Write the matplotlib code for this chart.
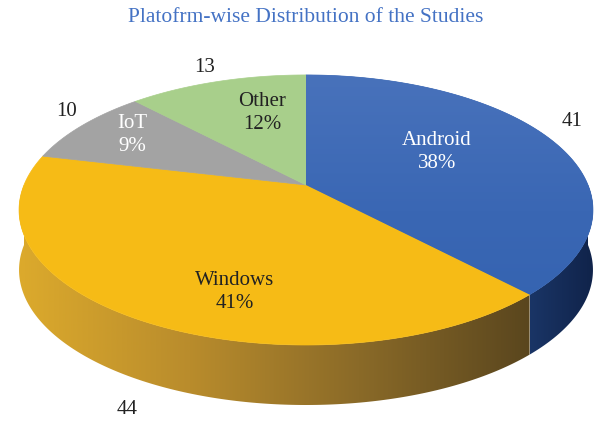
import numpy as np
import matplotlib.pyplot as plt
from matplotlib.patches import Polygon
from matplotlib.colors import LinearSegmentedColormap

# data
platforms = ["Android", "Windows", "IoT", "Other"]
counts = [41, 44, 10, 13]

top_colors = ["#3c69b5", "#f6bb16", "#a3a3a3", "#a8cf8b"]
label_colors = ["white", "#222222", "white", "#222222"]
# label spots (pixels) for name+percent and for the raw counts
pct_pos = [(437, 152), (235, 292), (132, 135), (262, 113)]
cnt_pos = [(572, 122), (127, 410), (67, 112), (205, 68)]

W, H = 597, 422
cx, cy = 306, 185      # where the slices meet
rx, ry, persp = 282, 130.4, 0.185
depth = 60

def proj(t, r=1.0):
    u, v = r * np.cos(t), r * np.sin(t)
    d = 1 + persp * v
    return cx + rx * u / d, cy - ry * v / d

fig = plt.figure(figsize=(W / 100, H / 100), dpi=100)
ax = fig.add_axes([0, 0, 1, 1])
ax.set_xlim(0, W)
ax.set_ylim(H, 0)
ax.axis("off")

total = sum(counts)
ang = 90 - np.cumsum([0] + counts) / total * 360   # clockwise from top
starts, ends = ang[:-1], ang[1:]

# side walls (front half only)
side_maps = [
    LinearSegmentedColormap.from_list("b", ["#1a3566", "#10234a"]),
    LinearSegmentedColormap.from_list("y", ["#dcaa2c", "#b98c2c", "#8a6a28", "#5a461e"]),
    LinearSegmentedColormap.from_list("g", ["#6f6f6f", "#6f6f6f"]),
    LinearSegmentedColormap.from_list("o", ["#6f8f5a", "#6f8f5a"]),
]
for i in range(len(counts)):
    a0, a1 = ends[i], starts[i]
    lo, hi = max(a0, -180), min(a1, 0)
    if lo >= hi:
        continue
    t = np.radians(np.linspace(lo, hi, 200))
    x, y = proj(t)
    pts = np.vstack([np.column_stack([x, y]), np.column_stack([x[::-1], y[::-1] + depth])])
    poly = Polygon(pts, closed=True, facecolor="none", edgecolor="none")
    ax.add_patch(poly)
    grad = np.linspace(0, 1, 256)[None, :]
    im = ax.imshow(grad, cmap=side_maps[i], extent=(x.min(), x.max(), H, 0),
                   aspect="auto", zorder=1)
    im.set_clip_path(poly)

# top faces
for i in range(len(counts)):
    t = np.radians(np.linspace(starts[i], ends[i], 200))
    x, y = proj(t)
    pts = np.vstack([[cx, cy], np.column_stack([x, y])])
    poly = Polygon(pts, closed=True, facecolor=top_colors[i], edgecolor=top_colors[i],
                   linewidth=0.5, zorder=2)
    ax.add_patch(poly)
    if platforms[i] == "Android":
        cm = LinearSegmentedColormap.from_list("a", ["#5078bf", "#3a67b4", "#2f5fad"])
        im = ax.imshow(np.linspace(0, 1, 256)[:, None], cmap=cm, extent=(0, W, H, 0),
                       aspect="auto", zorder=2.5)
        im.set_clip_path(poly)

ax.set_xlim(0, W)
ax.set_ylim(H, 0)

font = "Liberation Serif"
for i, name in enumerate(platforms):
    pct = round(counts[i] / total * 100)
    ax.text(pct_pos[i][0], pct_pos[i][1], f"{name}\n{pct}%", ha="center", va="center",
            color=label_colors[i], fontsize=15, family=font, linespacing=1.25, zorder=5)
    ax.text(cnt_pos[i][0], cnt_pos[i][1], str(counts[i]), ha="center", va="center",
            color="#222222", fontsize=15, family=font, zorder=5)

ax.text(W / 2 + 7, 18, "Platofrm-wise Distribution of the Studies", ha="center", va="center",
        color="#4472c4", fontsize=15.5, family=font)

fig.savefig("out.png", dpi=100)
